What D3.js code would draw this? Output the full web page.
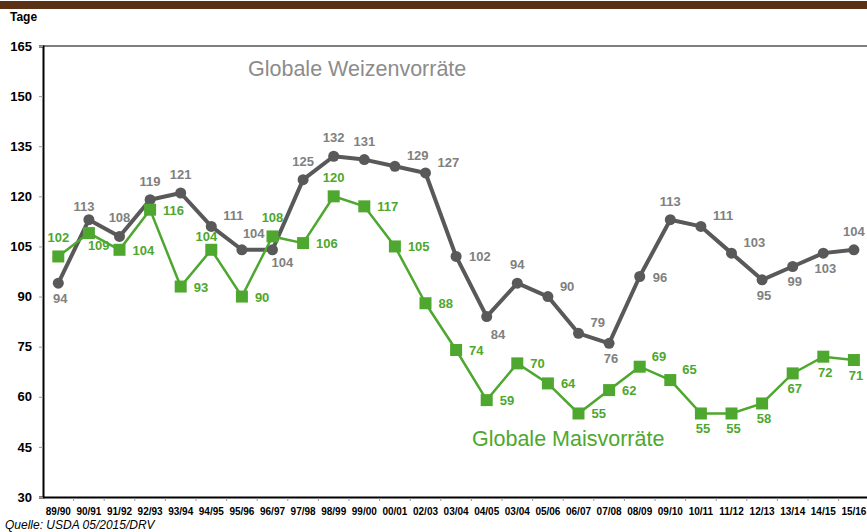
<!DOCTYPE html>
<html>
<head>
<meta charset="utf-8">
<script src="https://cdn.jsdelivr.net/npm/d3@7"></script>
<style>
  body { margin: 0; background: #fff; }
  svg { display: block; font-family: "Liberation Sans", Arial, sans-serif; }
</style>
</head>
<body>
<div id="chart"></div>
<script>
const seasons = ["89/90","90/91","91/92","92/93","93/94","94/95","95/96","96/97","97/98","98/99","99/00","00/01","02/03","03/04","04/05","03/04 ","05/06","06/07","07/08","08/09","09/10","10/11","11/12","12/13","13/14","14/15","15/16"];
const wheat = [94,113,108,119,121,111,104,104,125,132,131,129,127,102,84,94,90,79,76,96,113,111,103,95,99,103,104];
const corn = [102,109,104,116,93,104,90,108,106,120,117,105,88,74,59,70,64,55,62,69,65,55,55,58,67,72,71];
const yTicks = [30,45,60,75,90,105,120,135,150,165];

// label placement per point: a = above, b = below, r = right, ar = above right, br = below right ...
const wheatLabelPos = ["b","al","a","a","a","ar","au","bs","a","a","a","ar","ar","r","br","a","ar","ar","b","r","a","ar","ar","b","b","b","a"];
const cornLabelPos = ["a","bs","r","r","r","al","r","a","r","a","r","r","r","r","r","r","r","r","r","ar","ar","b","b","b","b","b","b"];

const width = 867, height = 532;
const margin = {top: 46, right: -3, bottom: 35, left: 43};

const svg = d3.select("#chart").append("svg")
  .attr("width", width)
  .attr("height", height);

// brown header bar
svg.append("rect")
  .attr("x", 0).attr("y", 1)
  .attr("width", width).attr("height", 8)
  .attr("fill", "#5b3116");

const x = d3.scaleBand()
  .domain(seasons)
  .range([margin.left, margin.left + seasons.length * 30.6]);

const y = d3.scaleLinear()
  .domain([30, 165])
  .range([height - margin.bottom, margin.top]);

const cx = d => x(d) + x.bandwidth() / 2;

// top border of the plot area
svg.append("line")
  .attr("x1", margin.left).attr("x2", width)
  .attr("y1", y(165)).attr("y2", y(165))
  .attr("stroke", "#000").attr("stroke-width", 1);

// Y axis
const yAxis = svg.append("g")
  .attr("transform", `translate(${margin.left},0)`)
  .call(d3.axisLeft(y).tickValues(yTicks).tickSize(4).tickPadding(7));
yAxis.select(".domain").attr("stroke", "#000").attr("stroke-width", 2);
yAxis.selectAll(".tick line").attr("stroke", "#999");
yAxis.selectAll("text")
  .attr("font-size", 13).attr("font-weight", "bold").attr("fill", "#000")
  .attr("font-family", "Liberation Sans, Arial, sans-serif");

// X axis
const xAxis = svg.append("g")
  .attr("transform", `translate(0,${y(30)})`)
  .call(d3.axisBottom(x).tickSize(0).tickPadding(11));
xAxis.select(".domain").attr("stroke", "#000").attr("stroke-width", 2);
xAxis.selectAll("text")
  .attr("font-size", 10).attr("font-weight", "bold").attr("fill", "#000")
  .attr("font-family", "Liberation Sans, Arial, sans-serif");

// small tick marks between categories
svg.append("g").selectAll("line")
  .data(seasons.slice(1))
  .join("line")
  .attr("x1", d => x(d)).attr("x2", d => x(d))
  .attr("y1", y(30) + 1).attr("y2", y(30) + 4)
  .attr("stroke", "#999");

// Y axis title
svg.append("text")
  .attr("x", 10).attr("y", 21)
  .attr("font-size", 12).attr("font-weight", "bold")
  .text("Tage");

// lines
const line = vals => d3.line()
  .x((d, i) => cx(seasons[i]))
  .y(d => y(d))(vals);

svg.append("path")
  .attr("d", line(wheat))
  .attr("fill", "none")
  .attr("stroke", "#595959")
  .attr("stroke-width", 4)
  .attr("stroke-linejoin", "round");

svg.append("path")
  .attr("d", line(corn))
  .attr("fill", "none")
  .attr("stroke", "#4ea72e")
  .attr("stroke-width", 2.5);

svg.append("g").selectAll("circle")
  .data(wheat)
  .join("circle")
  .attr("cx", (d, i) => cx(seasons[i]))
  .attr("cy", d => y(d))
  .attr("r", 5.5)
  .attr("fill", "#595959");

svg.append("g").selectAll("rect")
  .data(corn)
  .join("rect")
  .attr("x", (d, i) => cx(seasons[i]) - 6)
  .attr("y", d => y(d) - 6)
  .attr("width", 12).attr("height", 12)
  .attr("fill", "#4ea72e");

// value labels
const offsets = {
  a:  [0, -14, "middle"],
  b:  [2, 20, "middle"],
  r:  [13, 5, "start"],
  ar: [12, -6, "start"],
  al: [-5, -9, "middle"],
  au: [1, -12, "start"],
  bs: [-1, 17, "start"],
  br: [4, 22, "start"]
};

function addLabels(vals, pos, color) {
  svg.append("g").selectAll("text")
    .data(vals)
    .join("text")
    .attr("x", (d, i) => cx(seasons[i]) + offsets[pos[i]][0])
    .attr("y", (d, i) => y(d) + offsets[pos[i]][1])
    .attr("text-anchor", (d, i) => offsets[pos[i]][2])
    .attr("font-size", 13)
    .attr("font-weight", "bold")
    .attr("fill", color)
    .text(d => d);
}
addLabels(wheat, wheatLabelPos, "#808080");
addLabels(corn, cornLabelPos, "#4ea72e");

// series titles
svg.append("text")
  .attr("x", 248).attr("y", 76)
  .attr("font-size", 21.5)
  .attr("fill", "#8c8c8c")
  .text("Globale Weizenvorräte");

svg.append("text")
  .attr("x", 472).attr("y", 446)
  .attr("font-size", 21.5)
  .attr("fill", "#4ea72e")
  .text("Globale Maisvorräte");

// source
svg.append("text")
  .attr("x", 5).attr("y", 529)
  .attr("font-size", 12)
  .attr("font-style", "italic")
  .text("Quelle: USDA 05/2015/DRV");
</script>
</body>
</html>
